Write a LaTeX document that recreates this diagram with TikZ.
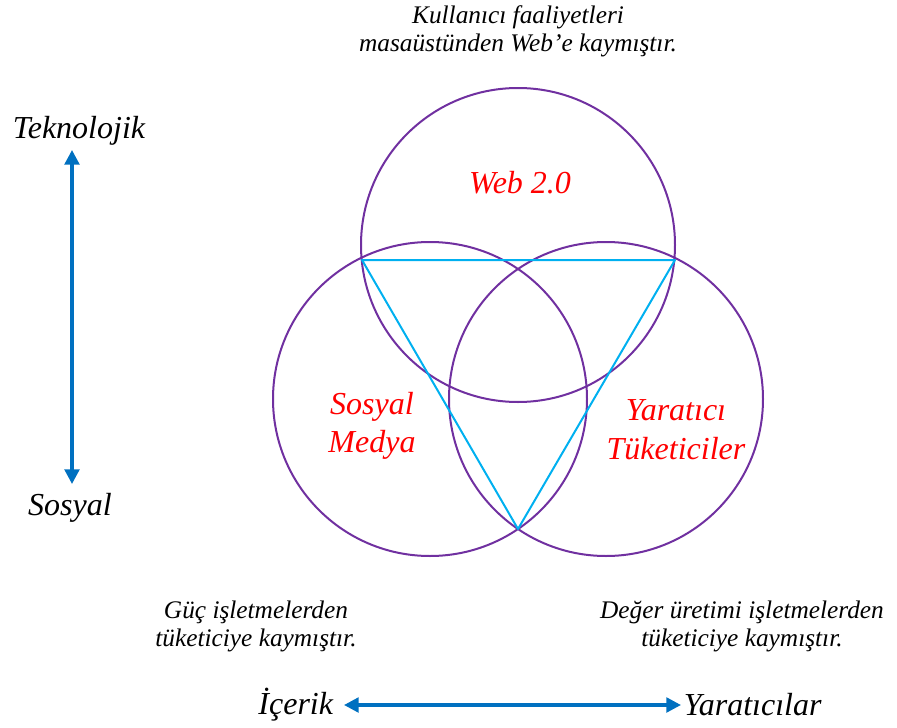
\documentclass[tikz,border=0pt]{standalone}
\usepackage{fontspec}
\setmainfont{Liberation Serif}
\usetikzlibrary{positioning,arrows.meta}

\definecolor{ringpurple}{RGB}{112,48,160}
\definecolor{trisky}{RGB}{0,176,240}
\definecolor{axisblue}{RGB}{0,112,192}

\tikzset{
    ring/.style={circle, draw=ringpurple, line width=1.5pt, minimum size=235.5pt, inner sep=0pt},
    bigtxt/.style={font=\fontsize{24}{29}\selectfont\itshape, inner sep=1pt},
    redtxt/.style={bigtxt, text=red, align=center},
    smalltxt/.style={font=\fontsize{19}{21}\selectfont\itshape, align=center, inner sep=1pt},
    axis/.style={draw=axisblue, line width=2.5pt, {Triangle[length=11pt,width=11pt]}-{Triangle[length=11pt,width=11pt]}}
}

\begin{document}
\begin{tikzpicture}[x=0.75pt, y=-0.75pt]
    \useasboundingbox (0,0) rectangle (897,728);
    % the three circles
    \node [ring] (web) at (518,245) {};
    \node [ring] (medya) at (430,399) {};
    \node [ring] (tuketici) at (606,399) {};
    % triangle corners
    \coordinate (tl) at (362,260);
    \coordinate (tr) at (675,260);
    \coordinate (bt) at (518,529);
    \draw [trisky, line width=1.5pt, line join=round] (tl) -- (tr) -- (bt) -- cycle;
    % labels inside
    \node [redtxt] (weblbl) at (520,183) {Web 2.0};
    \node [redtxt] (medyalbl) at (372,426) {Sosyal\\Medya};
    \node [redtxt] (tukelbl) at (676,430) {Yaratıcı\\Tüketiciler};
    % notes
    \node [smalltxt] (note1) at (518,31) {Kullanıcı faaliyetleri\\masaüstünden Web’e kaymıştır.};
    \node [smalltxt] (note2) at (256,626) {Güç işletmelerden\\tüketiciye kaymıştır.};
    \node [smalltxt] (note3) at (742,626) {Değer üretimi işletmelerden\\tüketiciye kaymıştır.};
    % vertical axis
    \coordinate (vtop) at (72,150);
    \coordinate (vbot) at (72,484);
    \node [bigtxt] (tekno) at (79,131) {Teknolojik};
    \node [bigtxt] (sosyal) at (70,508) {Sosyal};
    \draw [axis] (vtop) -- (vbot);
    % horizontal axis
    \coordinate (hleft) at (344,705);
    \coordinate (hright) at (681,705);
    \node [bigtxt, left=7pt of hleft] (icerik) {İçerik};
    \node [bigtxt, right=1pt of hright] (yaraticilar) {Yaratıcılar};
    \draw [axis] (hleft) -- (hright);
\end{tikzpicture}
\end{document}
